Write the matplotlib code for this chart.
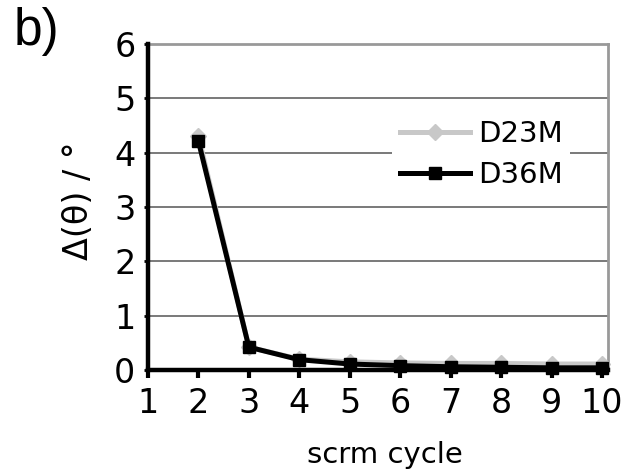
import matplotlib
matplotlib.use("Agg")
import matplotlib.pyplot as plt

cycles = [1, 2, 3, 4, 5, 6, 7, 8, 9, 10]
d23m = [None, 4.30, 0.42, 0.20, 0.15, 0.13, 0.12, 0.12, 0.11, 0.11]
d36m = [None, 4.21, 0.42, 0.19, 0.11, 0.08, 0.06, 0.05, 0.04, 0.04]
yticks = [0, 1, 2, 3, 4, 5, 6]

fig = plt.figure(figsize=(6.36, 4.76), dpi=100)
ax = fig.add_axes([0.2327, 0.2227, 0.7233, 0.6849])

x23 = [c for c, v in zip(cycles, d23m) if v is not None]
y23 = [v for v in d23m if v is not None]
x36 = [c for c, v in zip(cycles, d36m) if v is not None]
y36 = [v for v in d36m if v is not None]

ax.plot(x23, y23, color="#c8c8c8", lw=3.6, marker="D", ms=8, label="D23M",
        clip_on=False, zorder=3)
ax.plot(x36, y36, color="black", lw=3.6, marker="s", ms=8, label="D36M",
        clip_on=False, zorder=4)

ax.set_xlim(1, 10.12)
ax.set_ylim(0, 6)
ax.set_xticks(cycles)
ax.set_yticks(yticks)
ax.grid(axis="y", color="#555555", lw=1.1)
ax.set_axisbelow(True)

for s in ["top", "right"]:
    ax.spines[s].set_color("#999999")
    ax.spines[s].set_linewidth(2)
for s in ["left", "bottom"]:
    ax.spines[s].set_color("black")
    ax.spines[s].set_linewidth(3.2)
    ax.spines[s].set_zorder(5)

ax.tick_params(axis="x", direction="out", length=6, width=3, labelsize=24, pad=6)
ax.tick_params(axis="y", direction="out", length=3, width=2, labelsize=24, pad=6)

ax.set_xlabel("scrm cycle", fontsize=21, va="center")
ax.xaxis.set_label_coords(0.515, -0.26)
ax.set_ylabel("Δ(θ) / °", fontsize=24, va="center")
ax.yaxis.set_label_coords(-0.152, 0.52)

leg = ax.legend(loc="upper right", bbox_to_anchor=(0.918, 0.79), fontsize=21,
                frameon=True, handlelength=2.4, handletextpad=0.3,
                borderaxespad=0, borderpad=0.25, labelspacing=0.45)
leg.get_frame().set_edgecolor("none")
leg.get_frame().set_facecolor("white")
leg.get_frame().set_alpha(1)

fig.text(0.022, 0.985, "b)", fontsize=37, va="top", ha="left",
         family="Liberation Sans")

fig.savefig("out.png", dpi=100)
